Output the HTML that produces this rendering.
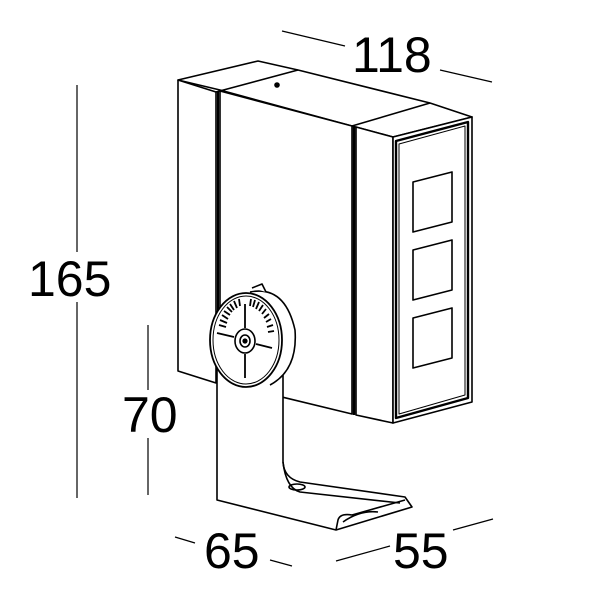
<!DOCTYPE html>
<html><head><meta charset="utf-8"><style>html,body{margin:0;padding:0;background:#fff}svg{display:block}</style></head>
<body>
<svg width="613" height="613" viewBox="0 0 613 613" xmlns="http://www.w3.org/2000/svg">
<g fill="none" stroke="#000" stroke-width="1.6" stroke-linejoin="round">
<line x1="77" y1="85" x2="77" y2="498" stroke-width="1.2"/>
<line x1="148" y1="325" x2="148" y2="495" stroke-width="1.2"/>
<line x1="282" y1="31" x2="345" y2="46" stroke-width="1.2"/>
<line x1="440" y1="70" x2="492" y2="82" stroke-width="1.2"/>
<line x1="175" y1="537" x2="195" y2="543" stroke-width="1.2"/>
<line x1="270" y1="560" x2="292" y2="566" stroke-width="1.2"/>
<line x1="336" y1="561" x2="390" y2="546" stroke-width="1.2"/>
<line x1="453" y1="530" x2="493" y2="519" stroke-width="1.2"/>
<path d="M178,80 L258,61 L298,70 L430,103 L472,117 L393,137 L352,126 L220,90 Z" fill="#fff"/>
<line x1="216" y1="92" x2="298" y2="70"/>
<line x1="352" y1="126" x2="430" y2="103"/>
<circle cx="277" cy="85" r="2" fill="#000"/>
<path d="M178,80 L216,92 L216,383 L178,371 Z" fill="#fff"/>
<path d="M220,91 L352,126 L352,414 L220,382 Z" fill="#fff"/>
<line x1="218" y1="91" x2="218" y2="383" stroke-width="2.2"/>
<line x1="354" y1="127" x2="354" y2="415" stroke-width="2.6"/>
<path d="M356,127 L393,137 L393,423 L356,415 Z" fill="#fff"/>
<path d="M393,137 L472,117 L472,402 L393,423 Z" fill="#fff"/>
<path d="M396,141 L468,122 L468,398 L396,418 Z" stroke-width="2.4"/>
<path d="M399,144 L465,126 L465,395 L399,414 Z" stroke-width="1"/>
<path d="M413,182 L452,172 L452,222 L413,232 Z"/>
<path d="M413,250 L452,240 L452,290 L413,300 Z"/>
<path d="M413,318 L452,308 L452,358 L413,368 Z"/>
<path d="M217,360 L217,500 L336,530 L412,507 L405,497 L300,482 Q284,478 283,462 L283,355" fill="#fff"/>
<path d="M283,462 Q286,488 300,492 L400,503"/>
<path d="M336,530 L338,520 Q340,513 352,515 L405,500"/>
<ellipse cx="297" cy="487" rx="8" ry="3"/>
<path d="M343,522 Q360,510 378,512"/>
<path d="M250,292 Q285,285 295,330 Q298,370 270,385" fill="#fff"/>
<path d="M252,288 L262,284 L266,292" fill="#fff"/>
<ellipse cx="246" cy="340" rx="36" ry="47" fill="#fff" stroke-width="1.8"/>
<ellipse cx="246" cy="340" rx="33" ry="44" stroke-width="1"/>
<ellipse cx="245" cy="341" rx="10" ry="12" stroke-width="1.6"/>
<ellipse cx="245" cy="341" rx="5" ry="6"/>
<circle cx="245" cy="341" r="1.8" fill="#000"/>
<g stroke-width="1.8">
<line x1="245" y1="328" x2="245" y2="304"/>
<line x1="245" y1="354" x2="245" y2="378"/>
<line x1="234" y1="337" x2="217" y2="333"/>
<line x1="256" y1="344" x2="272" y2="348"/>
<line x1="219" y1="325" x2="226" y2="327"/>
<line x1="220" y1="320" x2="227" y2="323"/>
<line x1="222" y1="315" x2="228" y2="319"/>
<line x1="224" y1="311" x2="230" y2="315"/>
<line x1="227" y1="307" x2="232" y2="312"/>
<line x1="230" y1="304" x2="234" y2="310"/>
<line x1="234" y1="301" x2="237" y2="308"/>
<line x1="239" y1="299" x2="240" y2="306"/>
<line x1="251" y1="299" x2="250" y2="306"/>
<line x1="255" y1="300" x2="253" y2="307"/>
<line x1="259" y1="302" x2="256" y2="309"/>
<line x1="263" y1="305" x2="259" y2="311"/>
<line x1="266" y1="309" x2="262" y2="314"/>
<line x1="269" y1="314" x2="264" y2="318"/>
<line x1="271" y1="319" x2="266" y2="322"/>
<line x1="273" y1="325" x2="267" y2="327"/>
<line x1="274" y1="331" x2="268" y2="332"/>
</g>
</g>
<rect x="28" y="252" width="95" height="50" fill="#fff"/>
<rect x="122" y="390" width="60" height="48" fill="#fff"/>
<g font-family="Liberation Sans, sans-serif" font-size="50" fill="#000">
<text x="28" y="296">165</text>
<text x="122" y="432">70</text>
<text x="352" y="72">118</text>
<text x="204" y="568">65</text>
<text x="393" y="568">55</text>
</g>
</svg>
</body></html>
